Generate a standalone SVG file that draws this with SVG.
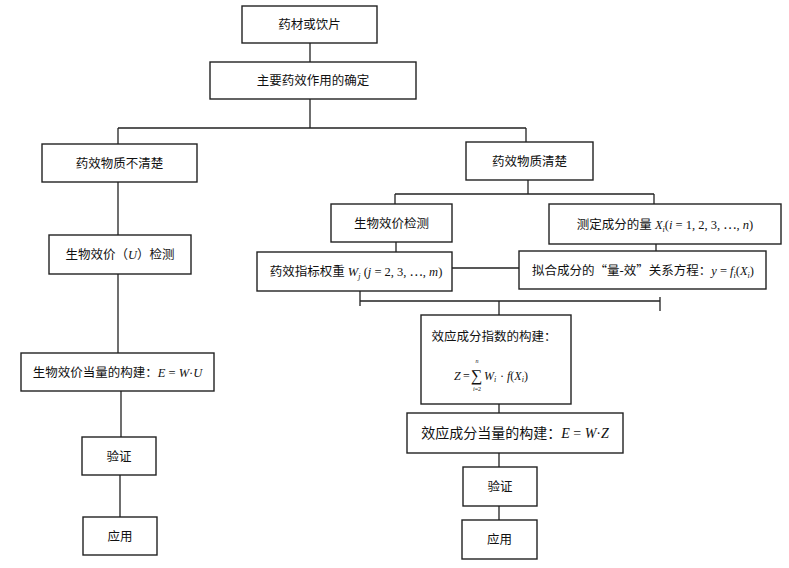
<svg xmlns="http://www.w3.org/2000/svg" width="789" height="568" viewBox="0 0 789 568">
<style>
.box{fill:#fff;stroke:#222;stroke-width:1.4}
.ln{fill:none;stroke:#222;stroke-width:1.3}
text{font-family:"Liberation Serif","Noto Sans CJK SC",serif;font-size:12.5px;fill:#111;text-anchor:middle}
.it{font-style:italic}
.cjk{font-family:"Noto Sans CJK SC",sans-serif}
.big{font-size:14px}
.sub{font-size:8px}
.f{font-size:12px;text-anchor:start}
.lim{font-size:6px}
</style>
<rect width="789" height="568" fill="#fff"/>
<g id="connectors">
<path class="ln" d="M310,43V62 M310,99V128 M118,128H526 M118,128V144 M526,128V142 M118,182V235 M118,274V353 M121,391V437 M120,475V517 M528,180V194 M395,194H654 M395,194V204 M654,194V204 M396,242V252 M656,244V251 M452,268H519 M360,291V306 M360,301H660 M660,297V311 M499,301V316 M499,404V413 M499,453V467 M499,506V520"/>
</g>
<g id="n1"><rect class="box" x="242" y="6" width="135" height="37"/><text x="309.5" y="29">药材或饮片</text></g>
<g id="n2"><rect class="box" x="210" y="62" width="206" height="37"/><text x="313" y="85">主要药效作用的确定</text></g>
<g id="n3"><rect class="box" x="42" y="144" width="155" height="38"/><text x="119.5" y="167.5">药效物质不清楚</text></g>
<g id="n4"><rect class="box" x="466" y="142" width="127" height="38"/><text x="529.5" y="165.5">药效物质清楚</text></g>
<g id="n5"><rect class="box" x="49" y="235" width="142" height="39"/><text x="120" y="259">生物效价（<tspan class="it">U</tspan>）检测</text></g>
<g id="n6"><rect class="box" x="21" y="353" width="193" height="38"/><text x="117.5" y="376.5">生物效价当量的构建：<tspan class="it">E</tspan> = <tspan class="it">W</tspan>·<tspan class="it">U</tspan></text></g>
<g id="n7"><rect class="box" x="82" y="437" width="74" height="38"/><text x="119" y="460.5">验证</text></g>
<g id="n8"><rect class="box" x="83" y="517" width="74" height="38"/><text x="120" y="540.5">应用</text></g>
<g id="n9"><rect class="box" x="331" y="204" width="121" height="38"/><text x="391.5" y="227.5">生物效价检测</text></g>
<g id="n10"><rect class="box" x="549" y="204" width="232" height="40"/><text x="665" y="228.5">测定成分的量 <tspan class="it">X</tspan><tspan class="it sub" dy="3">i</tspan><tspan dy="-3">(</tspan><tspan class="it">i</tspan> = 1, 2, 3, <tspan class="cjk">⋯</tspan>, <tspan class="it">n</tspan>)</text></g>
<g id="n11"><rect class="box" x="257" y="252" width="195" height="39"/><text x="356" y="276">药效指标权重 <tspan class="it">W</tspan><tspan class="it sub" dy="3">j</tspan><tspan dy="-3"> (</tspan><tspan class="it">j</tspan> = 2, 3, <tspan class="cjk">⋯</tspan>, <tspan class="it">m</tspan>)</text></g>
<g id="n12"><rect class="box" x="519" y="251" width="247" height="38"/><text x="643" y="274.5">拟合成分的<tspan class="cjk">“</tspan>量-效<tspan class="cjk">”</tspan>关系方程：<tspan class="it">y</tspan> = <tspan class="it">f</tspan><tspan class="it sub" dy="3">i</tspan><tspan dy="-3">(</tspan><tspan class="it">X</tspan><tspan class="it sub" dy="3">i</tspan><tspan dy="-3">)</tspan></text></g>
<g id="n13"><rect class="box" x="421" y="315" width="150" height="89"/>
<text x="494" y="341">效应成分指数的构建：</text>
<text x="454" y="380" class="f it">Z</text>
<text x="463" y="380" class="f">=</text>
<text x="471" y="381" class="f" style="font-size:16px">∑</text>
<text x="477" y="363" class="lim it">n</text>
<text x="477" y="391" class="lim"><tspan class="it">i</tspan>=2</text>
<text x="484" y="380" class="f"><tspan class="it">W</tspan><tspan class="it" style="font-size:8px" dy="2">i</tspan></text>
<text x="500" y="380" class="f">·</text>
<text x="507" y="380" class="f"><tspan class="it">f</tspan>(<tspan class="it">X</tspan><tspan class="it" style="font-size:8px" dy="2">i</tspan><tspan dy="-2">)</tspan></text>
</g>
<g id="n14"><rect class="box" x="407" y="413" width="216" height="40"/><text x="515" y="438" class="big">效应成分当量的构建：<tspan class="it">E</tspan> = <tspan class="it">W</tspan>·<tspan class="it">Z</tspan></text></g>
<g id="n15"><rect class="box" x="463" y="467" width="74" height="39"/><text x="500" y="491">验证</text></g>
<g id="n16"><rect class="box" x="462" y="520" width="75" height="39"/><text x="499.5" y="544">应用</text></g>
</svg>
